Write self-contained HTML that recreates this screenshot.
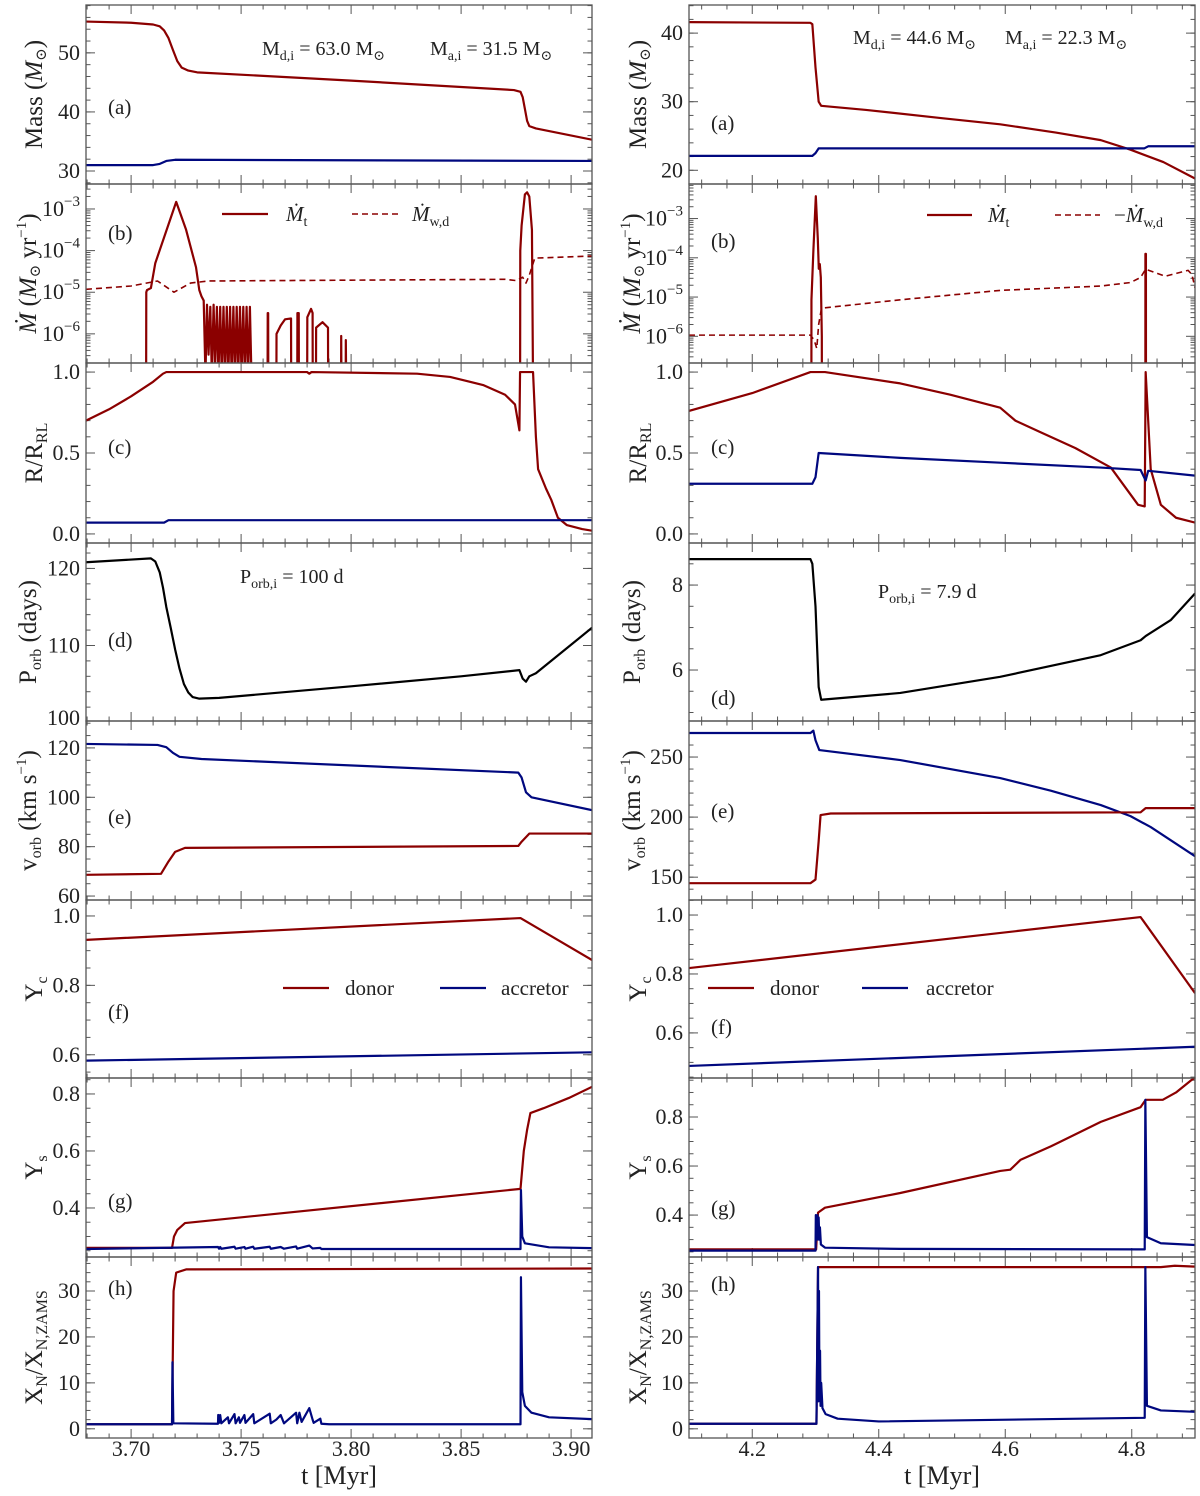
<!DOCTYPE html>
<html><head><meta charset="utf-8"><style>
html,body{margin:0;padding:0;background:#fff}
svg{display:block;font-family:"Liberation Serif","DejaVu Serif",serif}
</style></head><body>
<svg id="fig" width="1200" height="1496" viewBox="0 0 1200 1496" xmlns="http://www.w3.org/2000/svg"></svg>
<script>
// ---------- data: left column (t in Myr) ----------
const aL_don_t=[3.6795,3.70,3.710,3.713,3.715,3.717,3.719,3.721,3.723,3.726,3.73,3.80,3.874,3.877,3.878,3.879,3.880,3.881,3.884,3.9095];
const aL_don_v=[55.3,55.1,54.8,54.5,53.8,52.5,50.5,48.6,47.5,47.0,46.7,45.3,43.7,43.4,42.5,40.5,38.5,37.6,37.2,35.3];
const aL_acc_t=[3.6795,3.710,3.713,3.716,3.72,3.9095];
const aL_acc_v=[31.0,31.0,31.2,31.7,31.9,31.7];
const bL_mt_t=[3.7068,3.7069,3.7072,3.709,3.711,3.7205,3.725,3.7295,3.731,3.732,3.733,
3.7338,3.7345,3.7352,3.736,3.7367,3.7375,3.7382,3.739,3.7397,3.7405,3.7412,3.742,3.7427,3.7435,3.7442,3.745,3.7457,3.7465,3.7472,3.748,3.7487,3.7495,3.7502,3.751,3.7517,3.7525,3.7532,3.754,3.7547,3.7548,
3.7620,3.7621,3.7623,3.7624,3.7660,3.7661,3.768,3.770,3.7727,3.7728,3.7755,3.7756,3.7762,3.7763,3.7800,3.7801,3.7818,3.7825,3.7826,3.7840,3.7841,3.787,3.7895,3.7896,3.7954,3.7955,3.7957,3.7975,3.7976,3.7979,
3.8768,3.8769,3.8775,3.879,3.880,3.881,3.8822,3.8828];
const bL_mt_v=[-9,-5.0,-4.95,-4.9,-4.3,-2.83,-3.5,-4.4,-4.95,-5.1,-5.2,
-7,-5.3,-6.5,-5.35,-7,-5.3,-6.8,-5.35,-7,-5.35,-7,-5.35,-7,-5.35,-7,-5.35,-7,-5.35,-7,-5.35,-7,-5.35,-7,-5.35,-7,-5.35,-7,-5.35,-7,-9,
-9,-5.5,-5.5,-9,-9,-6.0,-5.8,-5.65,-5.63,-9,-9,-5.5,-5.5,-9,-9,-5.6,-5.4,-5.5,-9,-9,-5.85,-5.72,-5.85,-9,-9,-6.05,-9,-9,-6.15,-9,
-9,-4.0,-3.4,-2.65,-2.6,-2.7,-3.5,-9];
const bL_mw_t=[3.6795,3.70,3.712,3.7195,3.727,3.735,3.80,3.87,3.875,3.878,3.8795,3.881,3.8835,3.9095];
const bL_mw_v=[-4.93,-4.85,-4.73,-5.0,-4.78,-4.73,-4.71,-4.69,-4.72,-4.64,-4.78,-4.59,-4.18,-4.13];
const cL_don_t=[3.6795,3.69,3.70,3.71,3.7145,3.716,3.78,3.781,3.782,3.83,3.845,3.86,3.87,3.8745,3.8765,3.8768,3.8827,3.884,3.885,3.8886,3.891,3.894,3.898,3.905,3.9095];
const cL_don_v=[0.70,0.77,0.85,0.94,0.99,1.0,1.0,0.99,1.0,0.99,0.97,0.92,0.86,0.80,0.64,1.0,1.0,0.6,0.40,0.28,0.21,0.10,0.055,0.03,0.02];
const cL_acc_t=[3.6795,3.715,3.717,3.9095];
const cL_acc_v=[0.07,0.07,0.085,0.085];
const dL_t=[3.6795,3.709,3.711,3.713,3.7145,3.716,3.718,3.720,3.722,3.724,3.726,3.728,3.731,3.74,3.80,3.85,3.8765,3.878,3.8795,3.881,3.884,3.9095];
const dL_v=[120.8,121.3,120.9,119.5,117.5,115,112.3,109.5,107,105,103.9,103.3,103.1,103.2,104.7,106,106.8,105.7,105.3,106,106.4,112.3];
const eL_acc_t=[3.6795,3.712,3.716,3.719,3.722,3.732,3.876,3.8775,3.8795,3.882,3.9095];
const eL_acc_v=[121.6,121.2,120.3,118,116.4,115.5,110,108,102,100,94.8];
const eL_don_t=[3.6795,3.7136,3.717,3.72,3.7245,3.876,3.8775,3.881,3.9095];
const eL_don_v=[68.6,69.0,74,77.9,79.5,80.3,82,85.3,85.3];
const fL_don_t=[3.6795,3.877,3.9095];
const fL_don_v=[0.931,0.994,0.873];
const fL_acc_t=[3.6795,3.9095];
const fL_acc_v=[0.583,0.607];
const gL_don_t=[3.6795,3.7186,3.7195,3.721,3.7245,3.877,3.8785,3.880,3.8815,3.8875,3.899,3.9095];
const gL_don_v=[0.26,0.26,0.30,0.323,0.347,0.467,0.60,0.674,0.733,0.75,0.786,0.825];
const gL_acc_t=[3.6795,3.7395,3.740,3.7405,3.741,3.747,3.7475,3.7515,3.752,3.7555,3.756,3.763,3.7635,3.768,3.7695,3.775,3.7755,3.781,3.7825,3.786,3.7865,3.877,3.8772,3.8778,3.879,3.89,3.9095];
const gL_acc_v=[0.256,0.263,0.257,0.263,0.257,0.264,0.257,0.263,0.257,0.264,0.257,0.264,0.257,0.263,0.257,0.265,0.257,0.268,0.258,0.260,0.256,0.256,0.463,0.30,0.276,0.262,0.259];
const hL_don_t=[3.6795,3.7186,3.7193,3.7205,3.725,3.9095];
const hL_don_v=[1.0,1.0,30,34,34.7,34.9];
const hL_acc_t=[3.6795,3.7186,3.7188,3.7192,3.7395,3.7396,3.740,3.7405,3.741,3.744,3.7445,3.747,3.7475,3.749,3.7495,3.7515,3.752,3.7555,3.756,3.763,3.7635,3.766,3.768,3.7695,3.775,3.7755,3.7765,3.7775,3.781,3.7825,3.783,3.786,3.7865,3.79,3.877,3.8772,3.8778,3.879,3.882,3.89,3.9095];
const hL_acc_v=[1.0,1.0,14.5,1.2,1.1,3,1.3,3,1.2,2.5,1.2,3.2,1.2,2.5,1.3,3,1.3,3.2,1.2,3.3,1.2,2.0,3.0,1.2,3.5,1.2,3.5,1.5,4.5,2,1.3,2.2,1.1,1.0,1.0,33,8,5,3.5,2.5,2.1];
// ---------- data: right column ----------
const aR_don_t=[4.1,4.292,4.295,4.300,4.305,4.309,4.38,4.50,4.592,4.68,4.751,4.798,4.85,4.9];
const aR_don_v=[41.6,41.5,41.3,35,30,29.4,28.8,27.6,26.7,25.5,24.4,23.0,21.2,18.8];
const aR_acc_t=[4.1,4.295,4.300,4.305,4.82,4.826,4.9];
const aR_acc_v=[22.1,22.1,22.5,23.2,23.2,23.5,23.5];
const bR_mt_t=[4.2935,4.2936,4.2967,4.3005,4.3036,4.3052,4.3068,4.3084,4.310,4.3101,4.8215,4.8216,4.8224,4.8225];
const bR_mt_v=[-9,-5.07,-3.8,-2.43,-3.5,-4.28,-4.16,-4.5,-6.0,-9,-9,-3.9,-3.9,-9];
const bR_mw_t=[4.1,4.292,4.298,4.302,4.305,4.309,4.311,4.434,4.592,4.751,4.798,4.814,4.822,4.853,4.889,4.895,4.9];
const bR_mw_v=[-5.97,-5.97,-6.1,-6.31,-5.7,-5.33,-5.28,-5.07,-4.83,-4.72,-4.63,-4.5,-4.29,-4.47,-4.32,-4.42,-4.76];
const cR_don_t=[4.1,4.2,4.292,4.315,4.434,4.513,4.592,4.616,4.655,4.711,4.767,4.81,4.8205,4.822,4.830,4.846,4.87,4.9];
const cR_don_v=[0.76,0.87,1.0,1.0,0.93,0.86,0.78,0.70,0.63,0.53,0.41,0.18,0.17,1.0,0.40,0.18,0.10,0.07];
const cR_acc_t=[4.1,4.295,4.300,4.305,4.434,4.592,4.751,4.814,4.822,4.826,4.9];
const cR_acc_v=[0.31,0.31,0.35,0.50,0.47,0.44,0.41,0.395,0.33,0.39,0.36];
const dR_t=[4.1,4.292,4.295,4.300,4.305,4.309,4.434,4.592,4.751,4.814,4.822,4.862,4.9];
const dR_v=[8.61,8.61,8.5,7.5,5.6,5.3,5.46,5.84,6.35,6.7,6.8,7.18,7.8];
const eR_acc_t=[4.1,4.292,4.2966,4.300,4.306,4.434,4.592,4.672,4.751,4.798,4.830,4.9];
const eR_acc_v=[270,270,272,264,255.8,247.5,232.5,222,210,200.8,191.7,167.5];
const eR_don_t=[4.1,4.292,4.300,4.305,4.308,4.324,4.814,4.822,4.9];
const eR_don_v=[145,145,148,180,201.7,203,204,207.5,207.5];
const fR_don_t=[4.1,4.814,4.9];
const fR_don_v=[0.82,0.993,0.735];
const fR_acc_t=[4.1,4.9];
const fR_acc_v=[0.488,0.553];
const gR_don_t=[4.1,4.301,4.304,4.315,4.434,4.592,4.608,4.624,4.672,4.751,4.814,4.822,4.849,4.870,4.894,4.9];
const gR_don_v=[0.26,0.26,0.41,0.43,0.49,0.58,0.585,0.625,0.68,0.78,0.84,0.87,0.87,0.90,0.95,0.96];
const gR_acc_t=[4.1,4.300,4.3005,4.302,4.303,4.304,4.305,4.306,4.307,4.3085,4.315,4.434,4.8205,4.8215,4.824,4.846,4.9];
const gR_acc_v=[0.255,0.255,0.40,0.30,0.40,0.30,0.39,0.30,0.35,0.28,0.267,0.262,0.260,0.87,0.31,0.285,0.278];
const hR_don_t=[4.1,4.3015,4.304,4.80,4.846,4.868,4.9];
const hR_don_v=[1.1,1.1,35.2,35.2,35.2,35.5,35.3];
const hR_acc_t=[4.1,4.3015,4.304,4.3048,4.3055,4.3062,4.3072,4.308,4.309,4.311,4.316,4.335,4.40,4.8205,4.8215,4.824,4.846,4.9];
const hR_acc_v=[1.1,1.1,35.2,6,30,8,17,5,10,4.5,3.2,2.2,1.6,2.4,35.2,5,4,3.7];

// ---------- layout ----------
const NS="http://www.w3.org/2000/svg";
const svg=document.getElementById('fig');
const DARK='#8b0000', NAVY='#00087f';
const TOPS=[5,184,363,543,721,900,1078,1257,1438];
const COLS={
 L:{x0:86,x1:592,t0:3.6795,t1:3.9095,maj:[3.70,3.75,3.80,3.85,3.90],majLab:['3.70','3.75','3.80','3.85','3.90'],minStep:0.01,titleX:42},
 R:{x0:689,x1:1195,t0:4.1,t1:4.9,maj:[4.2,4.4,4.6,4.8],majLab:['4.2','4.4','4.6','4.8'],minStep:0.04,titleX:646}
};
function el(tag,attrs,parent){const e=document.createElementNS(NS,tag);for(const k in attrs)e.setAttribute(k,attrs[k]);(parent||svg).appendChild(e);return e;}

const PANELS={
 L:[
  {y0:27.8,y1:58.1,maj:[30,40,50],lab:['30','40','50'],min:2,lbl:'(a)',lx:108,ly:107,
   series:[[aL_don_t,aL_don_v,DARK],[aL_acc_t,aL_acc_v,NAVY]]},
  {y0:-6.7,y1:-2.4,log:true,maj:[-6,-5,-4,-3],lbl:'(b)',lx:108,ly:233,
   series:[[bL_mt_t,bL_mt_v,DARK],[bL_mw_t,bL_mw_v,DARK,true]]},
  {y0:-0.056,y1:1.056,maj:[0,0.5,1],lab:['0.0','0.5','1.0'],min:0.1,lbl:'(c)',lx:108,ly:447,
   series:[[cL_don_t,cL_don_v,DARK],[cL_acc_t,cL_acc_v,NAVY]]},
  {y0:100.2,y1:123.3,maj:[100,110,120],lab:['100','110','120'],min:2,lbl:'(d)',lx:108,ly:640,
   series:[[dL_t,dL_v,'#000']]},
  {y0:58.4,y1:130.9,maj:[60,80,100,120],lab:['60','80','100','120'],min:5,lbl:'(e)',lx:108,ly:817,
   series:[[eL_acc_t,eL_acc_v,NAVY],[eL_don_t,eL_don_v,DARK]]},
  {y0:0.533,y1:1.046,maj:[0.6,0.8,1.0],lab:['0.6','0.8','1.0'],min:0.05,lbl:'(f)',lx:108,ly:1012,
   series:[[fL_don_t,fL_don_v,DARK],[fL_acc_t,fL_acc_v,NAVY]]},
  {y0:0.228,y1:0.856,maj:[0.4,0.6,0.8],lab:['0.4','0.6','0.8'],min:0.05,lbl:'(g)',lx:108,ly:1201,
   series:[[gL_don_t,gL_don_v,DARK],[gL_acc_t,gL_acc_v,NAVY]]},
  {y0:-2,y1:37.4,maj:[0,10,20,30],lab:['0','10','20','30'],min:2,lbl:'(h)',lx:108,ly:1288,
   series:[[hL_don_t,hL_don_v,DARK],[hL_acc_t,hL_acc_v,NAVY]]}
 ],
 R:[
  {y0:18.0,y1:44.1,maj:[20,30,40],lab:['20','30','40'],min:2,lbl:'(a)',lx:711,ly:123,
   series:[[aR_don_t,aR_don_v,DARK],[aR_acc_t,aR_acc_v,NAVY]]},
  {y0:-6.68,y1:-2.12,log:true,maj:[-6,-5,-4,-3],lbl:'(b)',lx:711,ly:241,
   series:[[bR_mt_t,bR_mt_v,DARK],[bR_mw_t,bR_mw_v,DARK,true]]},
  {y0:-0.056,y1:1.056,maj:[0,0.5,1],lab:['0.0','0.5','1.0'],min:0.1,lbl:'(c)',lx:711,ly:447,
   series:[[cR_don_t,cR_don_v,DARK],[cR_acc_t,cR_acc_v,NAVY]]},
  {y0:4.8,y1:8.99,maj:[6,8],lab:['6','8'],min:0.5,lbl:'(d)',lx:711,ly:698,
   series:[[dR_t,dR_v,'#000']]},
  {y0:131,y1:280,maj:[150,200,250],lab:['150','200','250'],min:10,lbl:'(e)',lx:711,ly:811,
   series:[[eR_acc_t,eR_acc_v,NAVY],[eR_don_t,eR_don_v,DARK]]},
  {y0:0.447,y1:1.051,maj:[0.6,0.8,1.0],lab:['0.6','0.8','1.0'],min:0.05,lbl:'(f)',lx:711,ly:1027,
   series:[[fR_don_t,fR_don_v,DARK],[fR_acc_t,fR_acc_v,NAVY]]},
  {y0:0.229,y1:0.959,maj:[0.4,0.6,0.8],lab:['0.4','0.6','0.8'],min:0.05,lbl:'(g)',lx:711,ly:1208,
   series:[[gR_don_t,gR_don_v,DARK],[gR_acc_t,gR_acc_v,NAVY]]},
  {y0:-2,y1:37.4,maj:[0,10,20,30],lab:['0','10','20','30'],min:2,lbl:'(h)',lx:711,ly:1284,
   series:[[hR_don_t,hR_don_v,DARK],[hR_acc_t,hR_acc_v,NAVY]]}
 ]
};
const TITLES=[
 'Mass (<tspan font-style="italic">M</tspan><tspan font-size="15" dy="4">⊙</tspan><tspan dy="-4">)</tspan>',
 '<tspan font-style="italic">Ṁ</tspan> (<tspan font-style="italic">M</tspan><tspan font-size="15" dy="4">⊙</tspan><tspan dy="-4"> yr</tspan><tspan font-size="15" dy="-10">−1</tspan><tspan dy="10">)</tspan>',
 'R/R<tspan font-size="16" dy="5">RL</tspan>',
 'P<tspan font-size="16" dy="5">orb</tspan><tspan dy="-5"> (days)</tspan>',
 'v<tspan font-size="16" dy="5">orb</tspan><tspan dy="-5"> (km s</tspan><tspan font-size="15" dy="-10">−1</tspan><tspan dy="10">)</tspan>',
 'Y<tspan font-size="16" dy="5">c</tspan>',
 'Y<tspan font-size="16" dy="5">s</tspan>',
 'X<tspan font-size="16" dy="5">N</tspan><tspan dy="-5">/X</tspan><tspan font-size="16" dy="5">N,ZAMS</tspan>'
];
const TSHIFT=[0,6,0,6,6,0,0,0];
const PNAMES=['mass','mass-transfer-rate','radius-ratio','orbital-period','orbital-velocity','central-helium','surface-helium','nitrogen-enrichment'];

for(const side of ['L','R']){
 const C=COLS[side];
 const sx=t=>C.x0+(t-C.t0)/(C.t1-C.t0)*(C.x1-C.x0);
 PANELS[side].forEach((P,i)=>{
  const top=TOPS[i],bot=TOPS[i+1];
  const sy=v=>bot-(v-P.y0)/(P.y1-P.y0)*(bot-top);
  const g=el('g',{});
  
  
  const cid='clip'+side+i;
  const cp=el('clipPath',{id:cid},g);el('rect',{x:C.x0,y:top,width:C.x1-C.x0,height:bot-top},cp);
  const tk=el('g',{stroke:'#555','stroke-width':1},g);
  
  for(let t=Math.ceil(C.t0/C.minStep)*C.minStep;t<=C.t1+1e-9;t+=C.minStep){
   const isMaj=C.maj.some(m=>Math.abs(m-t)<1e-6);const L=isMaj?9:4.5;const x=sx(t);
   el('line',{x1:x,x2:x,y1:bot,y2:bot-L},tk);el('line',{x1:x,x2:x,y1:top,y2:top+L},tk);
  }
  const yk=el('g',{stroke:'#555','stroke-width':1},g);
  
  const addY=(v,L)=>{const y=sy(v);if(y<top-0.5||y>bot+0.5)return;el('line',{x1:C.x0,x2:C.x0+L,y1:y,y2:y},yk);el('line',{x1:C.x1,x2:C.x1-L,y1:y,y2:y},yk);};
  if(P.log){
   for(let d=Math.floor(P.y0);d<=Math.ceil(P.y1);d++){addY(d,9);for(let k=2;k<10;k++)addY(d+Math.log10(k),4.5);}
  }else{
   for(let v=Math.ceil(P.y0/P.min)*P.min;v<=P.y1+1e-9;v+=P.min)addY(v,4.5);
   P.maj.forEach(v=>addY(v,9));
  }
  P.maj.forEach((v,k)=>{
   let y=sy(v);if(y>bot-3&&i<7)y=bot-3;
   const tx=el('text',{x:C.x0-6,y:y+7,'text-anchor':'end','font-size':22,fill:'#222'},g);
   
   if(P.log){tx.innerHTML='10<tspan font-size="15" dy="-10">−'+(-v)+'</tspan>';}
   else tx.textContent=P.lab[k];
  });
  const sg=el('g',{'clip-path':'url(#'+cid+')'},g);
  P.series.forEach(s=>{
   const [T,V,col,dash]=s;
   const yv=v=>sy(Math.max(v,P.y0-0.3*(P.y1-P.y0)));
   let d='';T.forEach((t,k)=>{d+=(k?'L':'M')+sx(t).toFixed(2)+','+yv(V[k]).toFixed(2);});
   const p=el('path',{d:d,fill:'none',stroke:col,'stroke-width':dash?1.6:2.2,'stroke-linejoin':'round','stroke-dasharray':dash?'6,4':'none'},sg);
   
   
  });
  const fr=el('rect',{x:C.x0,y:top,width:C.x1-C.x0,height:bot-top,fill:'none',stroke:'#555','stroke-width':1.3},g);
  
  const pl=el('text',{x:P.lx,y:P.ly+7,'font-size':21,fill:'#222'},g);
  
  pl.textContent=P.lbl;
  const cy=(top+bot)/2;
  const tX=C.titleX-TSHIFT[i];
  const yt=el('text',{x:0,y:0,'text-anchor':'middle','font-size':25,fill:'#222',transform:'translate('+tX+','+cy+') rotate(-90)'},g);
  
  yt.innerHTML=TITLES[i];
 });
 C.maj.forEach((t,k)=>{
  const tx=el('text',{x:sx(t),y:1456,'text-anchor':'middle','font-size':22,fill:'#222'});
  
  tx.textContent=C.majLab[k];
 });
 const xt=el('text',{x:(C.x0+C.x1)/2,y:1484,'text-anchor':'middle','font-size':26,fill:'#222'});
 
 xt.textContent='t [Myr]';
}

function txt(x,y,html,size,name,anchor){const t=el('text',{x:x,y:y,'font-size':size||20,fill:'#222','text-anchor':anchor||'start'});t.innerHTML=html;return t;}
function seg(x1,x2,y,col,dash,name){const l=el('line',{x1:x1,x2:x2,y1:y,y2:y,stroke:col,'stroke-width':dash?1.6:2.2,'stroke-dasharray':dash?'6,4':'none'});}
const S='<tspan font-size="14" dy="5">';
txt(262,55,'M'+S+'d,i</tspan><tspan dy="-5"> = 63.0 M</tspan>'+S+'⊙</tspan>','20','initial-masses-left');
txt(430,55,'M'+S+'a,i</tspan><tspan dy="-5"> = 31.5 M</tspan>'+S+'⊙</tspan>','20','initial-accretor-mass-left');
txt(853,44,'M'+S+'d,i</tspan><tspan dy="-5"> = 44.6 M</tspan>'+S+'⊙</tspan>','20','initial-masses-right');
txt(1005,44,'M'+S+'a,i</tspan><tspan dy="-5"> = 22.3 M</tspan>'+S+'⊙</tspan>','20','initial-accretor-mass-right');
txt(240,583,'P'+S+'orb,i</tspan><tspan dy="-5"> = 100 d</tspan>','20','initial-period-left');
txt(878,598,'P'+S+'orb,i</tspan><tspan dy="-5"> = 7.9 d</tspan>','20','initial-period-right');
seg(222,268,214,DARK,false,'legend-mt-line');
txt(286,221,'<tspan font-style="italic">Ṁ</tspan>'+S+'t</tspan>',21,'legend-mt-label');
seg(352,398,214,DARK,true,'legend-mw-line');
txt(412,221,'<tspan font-style="italic">Ṁ</tspan>'+S+'w,d</tspan>',21,'legend-mw-label');
seg(927,972,215,DARK,false,'legend-mt-line-right');
txt(988,222,'<tspan font-style="italic">Ṁ</tspan>'+S+'t</tspan>',21,'legend-mt-label-right');
seg(1055,1100,215,DARK,true,'legend-mw-line-right');
txt(1114,222,'−<tspan font-style="italic">Ṁ</tspan>'+S+'w,d</tspan>',21,'legend-mw-label-right');
seg(283,329,988,DARK,false,'legend-donor-line');
txt(345,995,'donor',21,'legend-donor-label');
seg(440,486,988,NAVY,false,'legend-accretor-line');
txt(501,995,'accretor',21,'legend-accretor-label');
seg(708,754,988,DARK,false,'legend-donor-line-right');
txt(770,995,'donor',21,'legend-donor-label-right');
seg(862,908,988,NAVY,false,'legend-accretor-line-right');
txt(926,995,'accretor',21,'legend-accretor-label-right');
</script>
</body></html>
